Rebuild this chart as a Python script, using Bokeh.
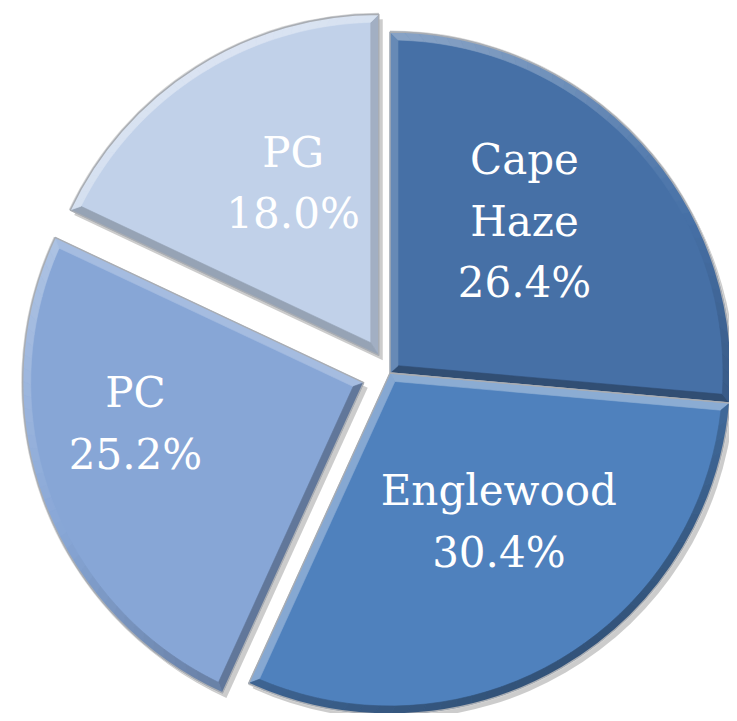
import math
import numpy as np
from bokeh.plotting import figure
from bokeh.models import Range1d, ColumnDataSource
from bokeh.core.properties import value
from bokeh.embed import file_html
from bokeh.resources import INLINE

# ---- data ----
names = ["Cape Haze", "Englewood", "PC", "PG"]
shares = [26.4, 30.4, 25.2, 18.0]
colors = ["#4670A6", "#4F81BD", "#87A6D6", "#C1D1E9"]

# ---- style ----
W, H = 729, 713
CX, CY = 389.5, 340.5
R = 341.0
explode = [0.0, 0.0, 28.0, 21.0]
label_frac = [0.595, 0.54, 0.68, 0.565]
label_turn = [6.0, 6.0, -10.0, -6.0]
BEVEL = 8.0
LIGHT = np.array([-0.45, 0.89])
LIGHT = LIGHT / np.linalg.norm(LIGHT)


def hex2rgb(h):
    h = h.lstrip("#")
    return [int(h[i:i + 2], 16) for i in (0, 2, 4)]


def rgb2hex(c):
    return "#%02x%02x%02x" % tuple(int(max(0, min(255, round(v)))) for v in c)


def shade(base, s):
    c = np.array(hex2rgb(base), dtype=float)
    if s >= 0:
        c = c + (255 - c) * 0.40 * s
    else:
        c = c * (1 - 0.36 * (-s))
    return rgb2hex(c)


def d(a):
    return np.array([math.cos(a), math.sin(a)])


p = figure(width=W, height=H, output_backend="svg", toolbar_location=None,
           x_range=Range1d(0, W), y_range=Range1d(0, H),
           x_axis_location=None, y_axis_location=None, min_border=0)
p.grid.visible = False
p.outline_line_color = None
p.background_fill_color = "white"

total = sum(shares)
cum = 0.0
vx, vy, a_start, a_end, mids = [], [], [], [], []
for i, v in enumerate(shares):
    a2 = math.radians(90 - cum / total * 360)
    a1 = math.radians(90 - (cum + v) / total * 360)
    cum += v
    mid = (a1 + a2) / 2
    vx.append(CX + explode[i] * math.cos(mid))
    vy.append(CY + explode[i] * math.sin(mid))
    a_start.append(a1)
    a_end.append(a2)
    mids.append(mid)

src = ColumnDataSource(dict(x=vx, y=vy, sx=[x + 4 for x in vx], sy=[y - 5 for y in vy],
                            a1=a_start, a2=a_end, color=colors, name=names, share=shares))

# drop shadow
p.wedge(x="sx", y="sy", radius=R, start_angle="a1", end_angle="a2", source=src,
        fill_color="#000000", fill_alpha=0.2, line_color=None)
p.wedge(x="x", y="y", radius=R + 1.5, start_angle="a1", end_angle="a2", source=src,
        fill_color="#d6d6d6", line_color=None)

# main slices
p.wedge(x="x", y="y", radius=R, start_angle="a1", end_angle="a2", source=src,
        fill_color="color", line_color=None)

# bevel bands
bx, by, bc = [], [], []
for i in range(len(shares)):
    V = np.array([vx[i], vy[i]])
    a1, a2 = a_start[i], a_end[i]
    th = a2 - a1
    Vi = V + BEVEL / math.sin(th / 2) * d((a1 + a2) / 2)
    ri = R - BEVEL
    da = math.asin(BEVEL / ri)
    b1, b2 = a1 + da, a2 - da
    P1, Q1 = V + R * d(a1), V + ri * d(b1)
    P2, Q2 = V + R * d(a2), V + ri * d(b2)
    n1 = d(a1 - math.pi / 2)
    n2 = d(a2 + math.pi / 2)
    for (P, Q, n) in ((P1, Q1, n1), (P2, Q2, n2)):
        pts = [V, P, Q, Vi]
        bx.append([q[0] for q in pts])
        by.append([q[1] for q in pts])
        bc.append(shade(colors[i], float(n @ LIGHT)))
    N = 40
    for k in range(N):
        o1 = a1 + th * k / N
        o2 = a1 + th * (k + 1) / N
        i1 = b1 + (b2 - b1) * k / N
        i2 = b1 + (b2 - b1) * (k + 1) / N
        pts = [V + R * d(o1), V + R * d(o2), V + ri * d(i2), V + ri * d(i1)]
        bx.append([q[0] for q in pts])
        by.append([q[1] for q in pts])
        bc.append(shade(colors[i], float(d((o1 + o2) / 2) @ LIGHT)))

p.patches(xs=bx, ys=by, fill_color=bc, line_color=bc, line_width=0.6)

# silver outline
p.wedge(x="x", y="y", radius=R, start_angle="a1", end_angle="a2", source=src,
        fill_alpha=0, line_color="#a9adb3", line_width=1.4)

# labels
lx, ly, lt = [], [], []
for i, (nm, v) in enumerate(zip(names, shares)):
    ang = mids[i] + math.radians(label_turn[i])
    lx.append(vx[i] + label_frac[i] * R * math.cos(ang))
    ly.append(vy[i] + label_frac[i] * R * math.sin(ang))
    lt.append(nm.replace(" ", "\n") + "\n" + f"{v:.1f}%")

p.text(x=lx, y=ly, text=lt, text_color="white", text_font=value("DejaVu Serif"),
       text_font_size="42px", text_align="center", text_baseline="middle",
       text_line_height=1.25)

open("out.html", "w").write(file_html(p, INLINE))
